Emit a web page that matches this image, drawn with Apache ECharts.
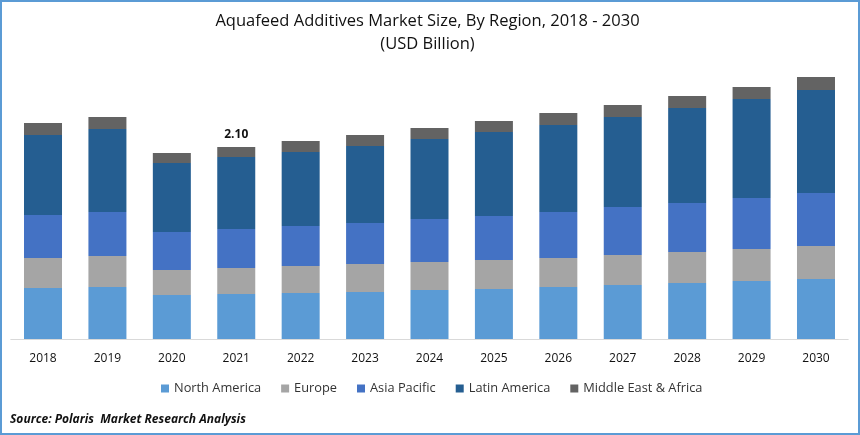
<!DOCTYPE html>
<html>
<head>
<meta charset="utf-8">
<script src="https://cdn.jsdelivr.net/npm/echarts@6/dist/echarts.min.js"></script>
<style>
    html, body { margin: 0; padding: 0; background: #fff; }
    #chart { width: 860px; height: 435px; }
</style>
</head>
<body>
<div id="chart"></div>
<script>
var years = ["2018", "2019", "2020", "2021", "2022", "2023", "2024", "2025", "2026", "2027", "2028", "2029", "2030"];
var northAmerica = [0.558, 0.569, 0.482, 0.493, 0.504, 0.515, 0.537, 0.547, 0.569, 0.591, 0.613, 0.635, 0.657];
var europe = [0.328, 0.339, 0.274, 0.285, 0.296, 0.307, 0.307, 0.318, 0.318, 0.328, 0.339, 0.350, 0.361];
var asiaPacific = [0.471, 0.482, 0.416, 0.427, 0.438, 0.449, 0.471, 0.482, 0.504, 0.526, 0.537, 0.558, 0.580];
var latinAmerica = [0.876, 0.909, 0.755, 0.788, 0.810, 0.843, 0.876, 0.920, 0.953, 0.985, 1.040, 1.084, 1.128];
var middleEastAfrica = [0.131, 0.131, 0.109, 0.109, 0.120, 0.120, 0.120, 0.120, 0.131, 0.131, 0.131, 0.131, 0.142];
var labelledYear = "2021";
var labelledTotal = "2.10";

var font = "'Open Sans', 'Noto Sans', sans-serif";

function barSeries(name, data, color) {
    return {
        name: name,
        type: "bar",
        stack: "total",
        barWidth: 38,
        data: data,
        itemStyle: { color: color }
    };
}

var topSeries = barSeries("Middle East & Africa", middleEastAfrica, "#636363");
topSeries.label = {
    show: true,
    position: "top",
    distance: 6,
    color: "#111",
    fontFamily: font,
    fontSize: 12,
    fontWeight: "bold",
    formatter: function(params) {
        return params.name === labelledYear ? labelledTotal : "";
    }
};

var chart = echarts.init(document.getElementById("chart"), null, { renderer: "canvas" });
chart.setOption({
    backgroundColor: "#fff",
    animation: false,
    title: [
        {
            text: "Aquafeed Additives Market Size, By Region, 2018 - 2030\n(USD Billion)",
            left: 422.5,
            top: 5,
            textAlign: "center",
            textStyle: {
                color: "#111",
                fontFamily: font,
                fontSize: 16.5,
                fontWeight: "normal",
                lineHeight: 23
            }
        },
        {
            text: "Source: Polaris  Market Research Analysis",
            left: 10,
            top: 414,
            padding: 0,
            textStyle: {
                color: "#111",
                fontFamily: font,
                fontSize: 12,
                fontWeight: "bold",
                fontStyle: "italic"
            }
        }
    ],
    legend: {
        bottom: 40,
        left: 161,
        itemWidth: 8,
        itemHeight: 8,
        itemGap: 20,
        icon: "rect",
        padding: 0,
        textStyle: {
            color: "#333",
            fontFamily: font,
            fontSize: 12.8
        }
    },
    grid: { left: 10.8, right: 11.8, top: 65, bottom: 96 },
    xAxis: {
        type: "category",
        data: years,
        axisLine: { lineStyle: { color: "#D9D9D9", width: 1 } },
        axisTick: { show: false },
        axisLabel: {
            color: "#111",
            fontFamily: font,
            fontSize: 12,
            margin: 14
        }
    },
    yAxis: {
        type: "value",
        min: 0,
        max: 3,
        show: false,
        splitLine: { show: false }
    },
    series: [
        barSeries("North America", northAmerica, "#5B9BD5"),
        barSeries("Europe", europe, "#A5A5A5"),
        barSeries("Asia Pacific", asiaPacific, "#4472C4"),
        barSeries("Latin America", latinAmerica, "#255E91"),
        topSeries
    ],
    graphic: [
        {
            type: "rect",
            shape: { x: 1, y: 1, width: 858, height: 433 },
            style: { fill: "none", stroke: "#5B9BD5", lineWidth: 2 },
            silent: true
        }
    ]
});
</script>
</body>
</html>
